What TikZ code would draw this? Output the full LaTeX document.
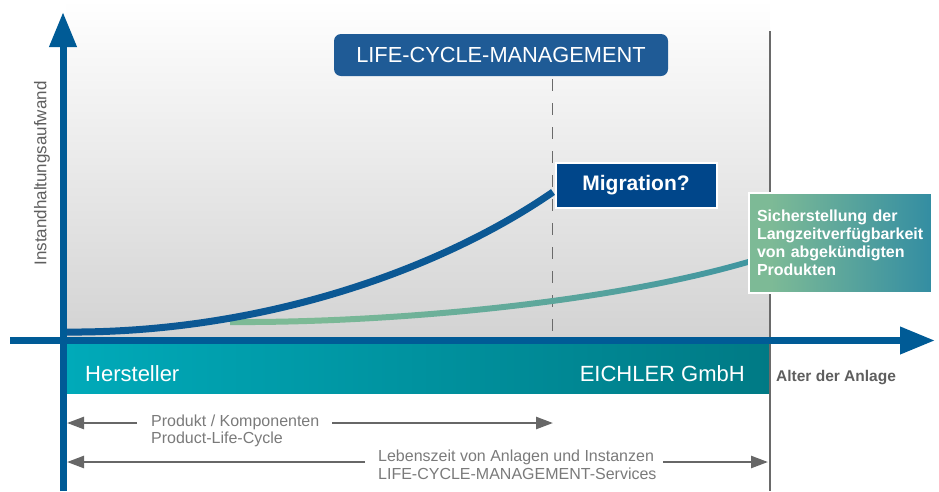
\documentclass[tikz,border=0pt]{standalone}
\usepackage{fontspec}
\setmainfont{Liberation Sans}
\usetikzlibrary{arrows.meta}
\definecolor{axisblue}{HTML}{005B96}
\definecolor{curveblue}{HTML}{0B5894}
\definecolor{lcmblue}{HTML}{1F5B96}
\definecolor{migblue}{HTML}{00468A}
\definecolor{bandL}{HTML}{00AAB9}
\definecolor{bandR}{HTML}{007A85}
\definecolor{cgreen}{HTML}{7DBA96}
\definecolor{cteal}{HTML}{2E8AA3}
\definecolor{bggray}{HTML}{D3D3D3}
\definecolor{linegray}{HTML}{6A6A6A}
\definecolor{arrgray}{HTML}{676767}
\definecolor{dimgray}{HTML}{7A7A7A}
\definecolor{axgray}{HTML}{5E5E5E}
\pgfdeclarehorizontalshading{boxshade}{100bp}{color(0bp)=(cgreen); color(31bp)=(cgreen); color(78bp)=(cteal); color(100bp)=(cteal)}
\pgfdeclarehorizontalshading{curveshade}{100bp}{color(0bp)=(cgreen); color(33bp)=(cgreen); color(88bp)=(cteal); color(100bp)=(cteal)}
\tikzset{
  axisline/.style={draw=axisblue, line width=7pt, -{Triangle[length=35pt,width=26pt]}},
  dimarrow/.style={draw=arrgray, line width=2.5pt, -{Triangle[length=17pt,width=12pt]}},
  dimlabel/.style={text=dimgray, font=\fontsize{16}{18}\selectfont, anchor=base west, inner sep=0pt},
  bandlabel/.style={text=white, font=\fontsize{22}{26}\selectfont, anchor=base, inner sep=0pt},
}
\begin{document}
\begin{tikzpicture}[x=1pt,y=-1pt]
\useasboundingbox (0,0) rectangle (939,491);
% background
\shade[top color=white, bottom color=bggray] (66,0) rectangle (770,337);
\shade[left color=bandL, right color=bandR] (67,344) rectangle (770,393);
% vertical limit line
\coordinate (limtop) at (770,31);
\coordinate (limbot) at (770,491);
\draw[linegray, line width=2pt] (limtop) -- (limbot);
% top box
\node[fill=lcmblue, rounded corners=7pt, minimum width=334pt, minimum height=42pt, inner sep=0pt,
      text=white, font=\fontsize{21.8}{25}\selectfont] (lcm) at (501,55) {LIFE-CYCLE-MANAGEMENT};
\coordinate (dashtop) at (552.5,79);
\coordinate (dashbot) at (552.5,337);
\draw[linegray, line width=1.6pt, dash pattern=on 12pt off 12pt] (dashtop) -- (dashbot);
% curves
\shade[shading=curveshade] (230,319) .. controls (380,320) and (600,302) .. (748,259)
   -- (748,265) .. controls (600,308) and (380,326) .. (230,325) -- cycle;
\coordinate (bstart) at (63,332);
\coordinate (bend) at (553,192);
\draw[curveblue, line width=7pt] (bstart) .. controls (260,334) and (440,270) .. (bend);
% axes
\coordinate (xs) at (10,340.5);
\coordinate (xe) at (935,340.5);
\coordinate (ys) at (63,491);
\coordinate (ye) at (63,12);
\draw[axisline] (ys) -- (ye);
\draw[axisline] (xs) -- (xe);
% boxes
\node[fill=migblue, draw=white, line width=2pt, minimum width=161pt, minimum height=45pt, inner sep=0pt,
      text=white, font=\fontsize{21}{25}\selectfont\bfseries] (mig) at (636,185.5) {Migration?};
\node[shade, shading=boxshade, draw=white, line width=2pt, minimum width=183pt, minimum height=100pt,
      inner xsep=8pt, inner ysep=0pt, text width=167pt, align=left,
      text=white, font=\fontsize{16}{18}\selectfont\bfseries] (sich) at (840.5,243)
      {Sicherstellung der\\Langzeitverfügbarkeit\\von abgekündigten\\Produkten};
% band labels
\node[bandlabel, anchor=base west] (herst) at (85,381) {Hersteller};
\node[bandlabel, anchor=base east] (eich) at (745,381) {EICHLER GmbH};
\node[text=axgray, font=\fontsize{15.5}{18}\selectfont\bfseries, anchor=base west, inner sep=0pt] (alter) at (776,381) {Alter der Anlage};
% y label
\node[text=axgray, font=\fontsize{17}{20}\selectfont, rotate=90, inner sep=0pt] (ylab) at (42,173.5) {Instandhaltungsaufwand};
% dimension arrows
\node[dimlabel] (prod1) at (151,426) {Produkt / Komponenten};
\node[dimlabel] (prod2) at (151,443) {Product-Life-Cycle};
\coordinate (a1L) at (67,423);
\coordinate (a1l) at (137,423);
\coordinate (a1r) at (332,423);
\coordinate (a1R) at (553,423);
\draw[dimarrow] (a1l) -- (a1L);
\draw[dimarrow] (a1r) -- (a1R);
\node[dimlabel] (leb1) at (378,461) {Lebenszeit von Anlagen und Instanzen};
\node[dimlabel] (leb2) at (378,479) {LIFE-CYCLE-MANAGEMENT-Services};
\coordinate (a2L) at (67,462);
\coordinate (a2l) at (365,462);
\coordinate (a2r) at (663,462);
\coordinate (a2R) at (768,462);
\draw[dimarrow] (a2l) -- (a2L);
\draw[dimarrow] (a2r) -- (a2R);
\end{tikzpicture}
\end{document}
